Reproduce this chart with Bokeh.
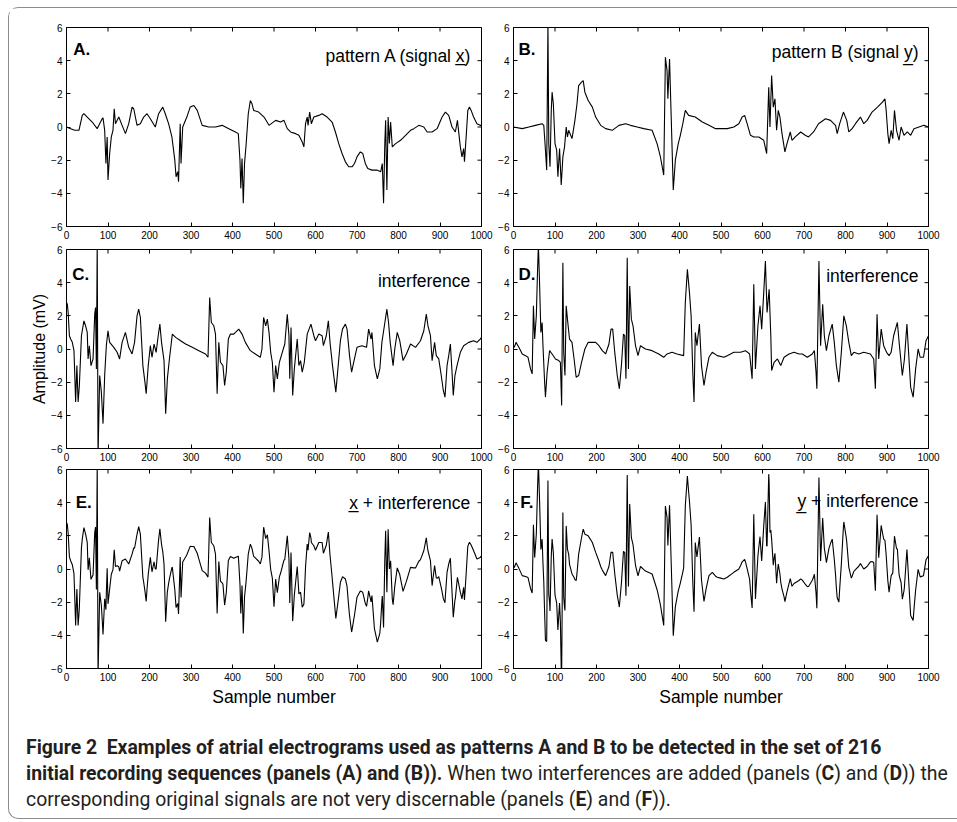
import numpy as np
from bokeh.plotting import figure
from bokeh.models import Range1d, FixedTicker, Label, Div
from bokeh.layouts import column, row
from bokeh.embed import file_html
from bokeh.resources import INLINE

# ---------------- data (sample number, amplitude mV) ----------------
x_ticks = [0, 100, 200, 300, 400, 500, 600, 700, 800, 900, 1000]
y_ticks = [-6, -4, -2, 0, 2, 4, 6]
x_lim = (0, 1000)
y_lim = (-6, 6)

pattern_a = [(0, 0), (10, -0.1), (20, -0.2), (30, -0.2), (38, 0.7), (42, 0.8), (50, 0.6), (62, 0.3),
             (74, -0.1), (78, 0.1), (86, 0.5), (88, 0.55), (92, -0.2), (95, -2.2), (98, -0.6), (100, -3.2),
             (104, -1.6), (108, -0.6), (112, -0.2), (115, 1.1), (118, 0.2), (126, 0.6), (134, 0.1),
             (142, -0.4), (150, 0.2), (158, 1.2), (162, 1.1), (170, 0.1), (178, 0.2), (186, 0.6),
             (194, 0.8), (202, 0.5), (214, 0), (222, 0.8), (232, 1.2), (238, 0.8), (246, 0.2),
             (254, -0.6), (261, -2.0), (264, -3.0), (268, -2.7), (270, -3.3), (274, 0.2), (276, -2.2),
             (280, 0), (290, 0.6), (298, 1.2), (307, 1.3), (315, 1.0), (327, 0.1), (343, 0), (359, 0),
             (375, 0.1), (391, -0.1), (407, -0.3), (414, -0.4), (418, -2.0), (420, -3.7), (423, -1.9),
             (426, -4.6), (429, -2.2), (433, -1.0), (438, 0.8), (443, 1.6), (447, 1.4), (451, 1.0),
             (463, 0.9), (476, 0.6), (488, 0.1), (504, 0.4), (516, 0.3), (524, 0.4), (532, -0.1),
             (540, -0.3), (552, -0.4), (560, -0.5), (568, -0.9), (572, -1.2), (576, 0.2), (580, 0.6),
             (582, 0.1), (586, 0.9), (590, 0.2), (596, 0.6), (608, 0.7), (616, 0.8), (628, 0.6),
             (640, 0.3), (648, -0.3), (656, -1.0), (664, -1.6), (672, -2.1), (680, -2.4), (688, -2.4),
             (694, -2.2), (700, -1.8), (708, -1.5), (714, -1.6), (720, -2.2), (726, -2.5), (736, -2.6),
             (748, -2.6), (757, -2.7), (761, -2.2), (764, -4.6), (767, -1.0), (769, 0.4), (772, -3.8),
             (775, 0.6), (778, -1.0), (781, 0.3), (785, -1.2), (793, -1.0), (805, -0.8), (817, -0.5),
             (829, -0.2), (837, -0.1), (849, 0.1), (861, 0), (869, -0.3), (881, -0.3), (893, -0.1),
             (905, 0.6), (913, 0.9), (921, 0.7), (929, 0), (937, -0.3), (942, 0.4), (949, -1.2),
             (953, -1.8), (957, -1.3), (959, -2.1), (963, -0.6), (967, 1.0), (971, 1.2), (975, 1.0),
             (981, 0.6), (989, 0.2), (997, 0.1), (1000, 0.1)]

pattern_b = [(0, 0), (21, -0.1), (37, 0), (53, 0.1), (69, 0.2), (73, 0.1), (77, -1.4), (80, -2.6),
             (83, 6.3), (85, -1.0), (88, -2.4), (91, 1.0), (93, 2.1), (96, 1.4), (100, -1.0), (104, -1.4),
             (107, -3.0), (111, -1.3), (115, -3.5), (119, -1.8), (123, -1.2), (127, 0), (130, -0.6),
             (133, -0.2), (141, -0.7), (148, 0.4), (153, 1.4), (157, 2.5), (164, 2.7), (168, 2.8),
             (172, 2.1), (180, 1.6), (190, 1.2), (198, 0.6), (210, 0.1), (222, -0.1), (238, -0.2),
             (254, 0.1), (270, 0.2), (282, 0.1), (298, 0), (314, -0.1), (334, -0.2), (346, -1.0),
             (354, -1.8), (362, -2.9), (366, 4.2), (370, 3.4), (372, 1.7), (376, 4.1), (380, 0.6),
             (385, -3.8), (390, -2.0), (397, -1.0), (402, -0.5), (408, 0.2), (414, 1.0), (422, 0.7),
             (438, 0.6), (455, 0.3), (471, 0.1), (487, -0.1), (499, -0.1), (515, -0.1), (531, 0),
             (543, 0.2), (551, 0.6), (557, 0.7), (563, 0.2), (571, -0.5), (579, -0.6), (591, -0.6),
             (603, -0.8), (610, -1.6), (615, 2.4), (618, 0), (622, 3.1), (626, 1.2), (630, 1.7),
             (634, -0.2), (638, 1.0), (642, 0.6), (647, -0.4), (654, -1.5), (659, -1.0), (667, -0.3),
             (671, -0.8), (679, -0.6), (692, -0.3), (703, -0.5), (711, -0.6), (723, -0.3), (735, 0.2),
             (752, 0.5), (764, 0.4), (776, 0.1), (780, -0.4), (786, 0.2), (795, 0.9), (803, 0.4),
             (808, -0.3), (816, -0.1), (824, 0.2), (836, 0.6), (844, 0.2), (852, 0.4), (864, 0.9),
             (877, 1.2), (889, 1.5), (895, 1.7), (898, 1.0), (902, -0.4), (905, -1.0), (910, -0.2),
             (914, -0.7), (918, 1.0), (923, -0.2), (929, -0.8), (934, 0), (941, -0.5), (949, -0.3),
             (957, -0.5), (965, -0.1), (977, 0), (989, 0.1), (1000, 0)]

interference_c = [(0, 2.8), (2, 2.7), (4, 2.2), (7, 0.8), (10, 0.6), (14, 0.4), (18, -0.1), (20, -1.6),
                  (22, -3.2), (25, -1.0), (28, -3.2), (31, -2.2), (36, 0.8), (42, 1.7), (46, 1.4), (50, 1.0),
                  (52, -0.6), (55, 0.2), (59, -1.0), (64, -0.6), (68, 2.1), (70, 2.5), (72, -1.2), (74, 6.5),
                  (76, -6.5), (80, -1.6), (84, -2.6), (88, -4.5), (92, -1.6), (96, 0.2), (100, 1.1),
                  (104, 0.4), (114, 0.1), (122, -0.2), (128, -0.6), (134, 0.4), (142, 1.0), (150, 0.1),
                  (158, -0.3), (164, 0.4), (170, 2.0), (174, 2.4), (178, 1.9), (184, -1.0), (189, -2.0),
                  (192, -2.7), (197, -1.0), (202, 0.2), (206, -0.5), (211, 0.3), (216, -0.2), (221, 0.8),
                  (225, 1.5), (229, 0.4), (235, -0.7), (239, -3.9), (243, -1.8), (248, -0.6), (255, 0.9),
                  (263, 0.7), (275, 0.5), (287, 0.3), (303, 0.1), (319, -0.1), (335, -0.3), (341, -0.5),
                  (345, 3.1), (349, 1.6), (355, 1.4), (359, 0.9), (363, -2.7), (367, 0.4), (371, -0.8),
                  (377, -1.0), (381, -2.2), (385, -1.4), (390, 0.6), (395, 0.9), (403, 0.9), (415, 1.2),
                  (423, 0.9), (431, 0.4), (443, -0.1), (455, -0.3), (467, -0.5), (471, 0), (475, 1.9),
                  (480, 1.4), (484, 1.8), (488, 1.0), (492, -0.2), (496, -0.8), (500, -2.6), (504, -1.0),
                  (508, -1.8), (513, -0.8), (520, -0.2), (526, 0.3), (532, 2.1), (536, 0.8), (538, -1.8),
                  (541, 1.3), (545, -2.8), (549, -1.2), (556, 0.6), (560, -1.0), (564, -0.7), (568, -1.4),
                  (573, -0.8), (580, 0.9), (589, 1.5), (596, 0.8), (600, 0.5), (608, 0.9), (616, 0.8),
                  (619, 0.2), (626, 0.8), (631, 1.7), (635, 0.4), (641, -1.0), (646, -2.0), (649, -2.6),
                  (654, -1.2), (660, 0.5), (665, 1.2), (672, 1.5), (676, 1.2), (682, -0.4), (687, -1.4),
                  (692, -0.8), (700, 0.1), (712, 0.2), (723, 0.1), (728, 1.2), (734, 0.6), (736, 1.0),
                  (742, -1.0), (749, -1.8), (755, -1.2), (760, 0.4), (766, 1.4), (772, 2.4), (776, 1.6),
                  (780, 0.4), (787, -1.0), (791, 0), (797, 1.0), (803, 0.5), (811, -0.7), (819, -0.3),
                  (829, 0.3), (841, 0.1), (853, 0.5), (861, 1.1), (867, 2.1), (871, 1.4), (877, 0.8),
                  (881, -0.7), (887, 0.4), (891, -0.4), (897, -0.6), (903, -1.6), (908, -2.5), (912, -2.9),
                  (917, -1.0), (921, -0.4), (925, 0.3), (929, -1.4), (932, -2.8), (936, -1.6), (941, -1.0),
                  (949, -0.2), (957, 0.2), (969, 0.4), (981, 0.5), (989, 0.4), (997, 0.6), (1000, 0.7)]

interference_d = [(0, 0.2), (2, 0.1), (6, 0.4), (13, 0.1), (21, -0.3), (29, -0.4), (35, -0.5), (41, -1.2),
                  (45, -1.5), (48, 2.6), (51, 0.6), (55, 2.0), (58, 4.8), (60, 6.3), (63, 3.8), (66, 1.0),
                  (69, 1.6), (71, 0.2), (75, -2.0), (77, -2.9), (81, -1.4), (87, -0.1), (93, -0.3),
                  (101, -0.6), (109, -0.7), (113, -0.8), (116, -3.4), (119, 5.2), (121, -0.2), (124, -1.6),
                  (127, 2.6), (130, 1.8), (135, 0.6), (141, 0.4), (146, -0.6), (151, -1.7), (157, -1.6),
                  (164, -0.8), (172, 0), (180, 0.4), (190, 0.4), (198, 0.4), (206, 0.2), (214, -0.1),
                  (222, -0.3), (230, 0.3), (235, 1.2), (239, 1.2), (244, -0.2), (250, -1.6), (255, -2.4),
                  (260, -1.0), (265, 0.9), (268, 0.8), (271, -1.8), (274, 5.5), (277, -1.2), (280, 3.8),
                  (284, 1.8), (288, 1.4), (294, 0.2), (300, -0.4), (306, 0.2), (318, 0), (334, -0.1),
                  (350, -0.3), (362, -0.5), (370, -0.3), (382, -0.2), (394, -0.3), (410, -0.4), (414, 2.8),
                  (419, 4.8), (424, 3.4), (428, 2.0), (432, -1.4), (435, -3.2), (438, 1.0), (442, 0.2),
                  (448, 1.5), (453, -1.0), (459, -2.2), (464, -1.4), (471, -0.5), (479, -0.2), (491, -0.4),
                  (507, -0.5), (515, -0.4), (531, -0.2), (547, -0.2), (559, -0.1), (569, -0.3), (575, -1.8),
                  (579, 3.9), (583, -1.2), (589, 1.4), (594, 2.6), (598, 1.2), (603, 3.4), (607, 5.3),
                  (611, 2.2), (616, 3.6), (620, 0.8), (622, -1.3), (628, -0.8), (636, -0.6), (644, -1.0),
                  (652, -0.5), (664, -0.3), (676, -0.2), (688, -0.3), (696, -0.3), (708, -0.5), (720, -0.3),
                  (725, -0.1), (729, -1.4), (731, -2.4), (736, 5.3), (740, 0.2), (745, 2.7), (749, 0.8),
                  (754, -0.1), (760, 0.8), (768, 1.5), (773, 0.4), (778, -1.0), (784, -2.0), (790, -0.2),
                  (796, 2.0), (802, 1.4), (808, 0.4), (814, -0.4), (820, -0.2), (832, -0.3), (844, -0.2),
                  (860, -0.3), (868, -0.6), (872, -2.4), (876, 2.1), (880, -0.6), (886, 1.2), (892, 0.2),
                  (899, -0.2), (905, -0.4), (910, -0.2), (916, 0.8), (925, 1.6), (930, 0.2), (937, -1.6),
                  (942, -0.6), (948, 1.5), (952, -0.2), (957, -2.3), (963, -2.9), (969, -1.2), (975, 0),
                  (980, -0.5), (988, -0.5), (994, 0.5), (1000, 0.8)]

a_s, a_v = [np.array(t, dtype=float) for t in zip(*pattern_a)]
b_s, b_v = [np.array(t, dtype=float) for t in zip(*pattern_b)]
c_s, c_v = [np.array(t, dtype=float) for t in zip(*interference_c)]
d_s, d_v = [np.array(t, dtype=float) for t in zip(*interference_d)]

# E = x + interference (C), F = y + interference (D): exact sum of the two polylines
e_s = np.union1d(a_s, c_s)
e_v = np.interp(e_s, a_s, a_v) + np.interp(e_s, c_s, c_v)
f_s = np.union1d(b_s, d_s)
f_v = np.interp(f_s, b_s, b_v) + np.interp(f_s, d_s, d_v)

FONT = "Liberation Sans"
FRAME_W, FRAME_H = 415, 199
TICK_PX = 4


def panel(s, v, letter, lpos, note, npos, left, right, top, bottom, ylabel=None, xlabel=None):
    p = figure(frame_width=FRAME_W, frame_height=FRAME_H, x_range=Range1d(*x_lim), y_range=Range1d(*y_lim),
               output_backend="svg", toolbar_location=None,
               min_border_left=left, min_border_right=right, min_border_top=top, min_border_bottom=bottom,
               background_fill_color="white", border_fill_color="white")
    p.line(s, v, line_color="black", line_width=1.1)
    p.grid.visible = False
    p.outline_line_color = "black"
    p.outline_line_width = 1
    p.xaxis.ticker = FixedTicker(ticks=x_ticks, minor_ticks=[])
    p.yaxis.ticker = FixedTicker(ticks=y_ticks, minor_ticks=[])
    for ax in list(p.xaxis) + list(p.yaxis):
        ax.major_tick_in = TICK_PX
        ax.major_tick_out = 0
        ax.minor_tick_in = 0
        ax.minor_tick_out = 0
        ax.axis_line_color = "black"
        ax.major_tick_line_color = "black"
        ax.major_label_text_font = FONT
        ax.major_label_text_font_size = "10px"
        ax.major_label_text_color = "black"
        ax.major_label_standoff = 4
    if ylabel:
        p.yaxis.axis_label = ylabel
        p.yaxis.axis_label_text_font = FONT
        p.yaxis.axis_label_text_font_size = "16px"
        p.yaxis.axis_label_text_font_style = "normal"
        p.yaxis.axis_label_text_color = "black"
        p.yaxis.axis_label_standoff = 0
    if xlabel:
        p.xaxis.axis_label = xlabel
        p.xaxis.axis_label_text_font = FONT
        p.xaxis.axis_label_text_font_size = "17.5px"
        p.xaxis.axis_label_text_font_style = "normal"
        p.xaxis.axis_label_text_color = "black"
        p.xaxis.axis_label_standoff = 3
    # inward tick marks on the top and right edges of the box (no labels there)
    dy = TICK_PX * (y_lim[1] - y_lim[0]) / FRAME_H
    dx = TICK_PX * (x_lim[1] - x_lim[0]) / FRAME_W
    nx, ny = len(x_ticks), len(y_ticks)
    p.segment(x0=x_ticks, y0=[y_lim[1]] * nx, x1=x_ticks, y1=[y_lim[1] - dy] * nx,
              line_color="black", line_width=1)
    p.segment(x0=[x_lim[1]] * ny, y0=y_ticks, x1=[x_lim[1] - dx] * ny, y1=y_ticks,
              line_color="black", line_width=1)
    p.add_layout(Label(x=lpos[0], y=lpos[1], text=letter, text_font=FONT, text_font_size="17px",
                       text_font_style="bold", text_baseline="middle", text_align="left", text_color="black"))
    p.add_layout(Label(x=npos[0], y=npos[1], text=note, text_font=FONT, text_font_size="17.5px",
                       text_baseline="middle", text_align="right", text_color="black"))
    return p


# column 1 frame at x 66..481, column 2 at x 513..928 (content starts at x=9, y=8)
L1, R1, L2, R2 = 57, 14, 18, 24
pA = panel(a_s, a_v, "A.", (16, 4.7), "pattern A (signal x\u0332)", (978, 4.3), L1, R1, 19, 17)
pB = panel(b_s, b_v, "B.", (12, 4.7), "pattern B (signal y\u0332)", (976, 4.5), L2, R2, 19, 17)
pC = panel(c_s, c_v, "C.", (14, 4.5), "interference", (973, 4.1), L1, R1, 6, 15, ylabel="Amplitude (mV)")
pD = panel(d_s, d_v, "D.", (12, 4.5), "interference", (976, 4.4), L2, R2, 6, 15)
pD.add_layout(Label(x=-46, y=-1.4, text="2.5", text_font=FONT, text_font_size="10px",
                    text_baseline="middle", text_align="left", text_color="black"))
pE = panel(e_s, e_v, "E.", (22, 4.0), "x\u0332 + interference", (973, 4.0), L1, R1, 6, 45, xlabel="Sample number")
pF = panel(f_s, f_v, "F.", (16, 4.0), "y\u0332 + interference", (976, 4.1), L2, R2, 6, 45, xlabel="Sample number")

caption_html = (
    '<div style="font-family: Roboto, \'Open Sans\', sans-serif; font-size:19.4px; line-height:26px; '
    'color:#231f20; padding:17px 0 0 12px; white-space:nowrap;">'
    '<b>Figure 2&nbsp; Examples of atrial electrograms used as patterns A and B to be detected in the set of 216</b><br>'
    '<b>initial recording sequences (panels (A) and (B)).</b> When two interferences are added '
    '(panels (<b>C</b>) and (<b>D</b>)) the<br>'
    'corresponding original signals are not very discernable (panels (<b>E</b>) and (<b>F</b>)).'
    '</div>'
)
caption = Div(text=caption_html, width=946, height=95)

layout = column(row(pA, pB), row(pC, pD), row(pE, pF), caption,
                margin=(7, 0, 0, 8),
                styles={"border": "1px solid #8c8c8c", "border-right": "none",
                        "border-radius": "10px 0 0 10px", "background": "white"})

open("out.html", "w").write(file_html(layout, INLINE))
